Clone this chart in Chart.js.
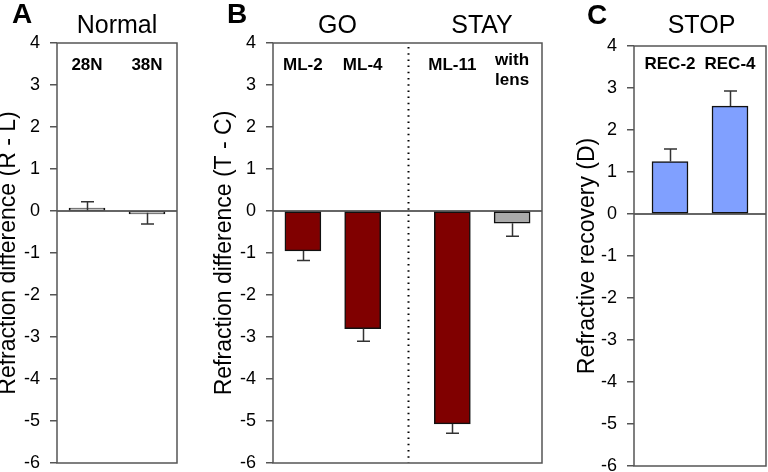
<!DOCTYPE html>
<html>
<head>
<meta charset="utf-8">
<script src="https://cdn.jsdelivr.net/npm/chart.js@4.4.0/dist/chart.umd.min.js"></script>
<style>
  html, body { margin: 0; padding: 0; background: #fff; }
  #wrap { position: relative; width: 768px; height: 472px; overflow: hidden; }
  canvas { position: absolute; top: 0; }
</style>
</head>
<body>
<div id="wrap">
  <canvas id="chartA" style="left:0px" width="195" height="482"></canvas>
  <canvas id="chartB" style="left:195px" width="380" height="482"></canvas>
  <canvas id="chartC" style="left:570px" width="198" height="485"></canvas>
</div>
<script>
// data
var yTicks = [-6, -5, -4, -3, -2, -1, 0, 1, 2, 3, 4];

var labelsA = ['28N', '38N'];
var valuesA = [0.02, -0.04];
var errorsA = [0.20, 0.27];

var labelsB = ['ML-2', 'ML-4', 'ML-11', 'with\nlens'];
var valuesB = [-0.95, -2.80, -5.07, -0.29];
var errorsB = [0.23, 0.30, 0.22, 0.31];

var labelsC = ['REC-2', 'REC-4'];
var valuesC = [1.25, 2.57];
var errorsC = [0.30, 0.36];

var FONT = "'Liberation Sans', Arial, sans-serif";
Chart.defaults.font.family = FONT;
Chart.defaults.font.size = 18;
Chart.defaults.color = '#000';

// helpers
function toPoints(slots, values) {
    var pts = [];
    for (var i in values) {
        pts.push({ x: slots[i], y: values[i] });
    }
    return pts;
}

var panelPlugin = {
    id: 'panel',
    beforeDatasetsDraw: function (chart, args, opts) {
        var a = chart.chartArea, ctx = chart.ctx;
        var ys = chart.scales.y, xs = chart.scales.x;
        ctx.save();
        // zero line
        var y0 = ys.getPixelForValue(0);
        ctx.strokeStyle = '#666';
        ctx.lineWidth = 2;
        ctx.beginPath();
        ctx.moveTo(a.left, y0);
        ctx.lineTo(a.right, y0);
        ctx.stroke();
        // dotted divider (GO / STAY)
        if (opts.divider != null) {
            var xd = Math.round(xs.getPixelForValue(opts.divider)) + 0.5;
            ctx.strokeStyle = '#000';
            ctx.lineWidth = 2;
            ctx.setLineDash([1.5, 4.7]);
            ctx.beginPath();
            ctx.moveTo(xd, a.top + 4);
            ctx.lineTo(xd, a.bottom);
            ctx.stroke();
            ctx.setLineDash([]);
        }
        ctx.restore();
    },
    afterDatasetsDraw: function (chart, args, opts) {
        var a = chart.chartArea, ctx = chart.ctx;
        var ys = chart.scales.y, xs = chart.scales.x;
        ctx.save();
        // error bars
        ctx.strokeStyle = '#333';
        ctx.lineWidth = 1.5;
        for (var i in opts.values) {
            var v = opts.values[i];
            var e = v >= 0 ? v + opts.errors[i] : v - opts.errors[i];
            var x = Math.round(xs.getPixelForValue(opts.slots[i])) + 0.5;
            var p1 = ys.getPixelForValue(v), p2 = ys.getPixelForValue(e);
            ctx.beginPath();
            ctx.moveTo(x, p1);
            ctx.lineTo(x, p2);
            ctx.moveTo(x - 6.5, p2);
            ctx.lineTo(x + 6.5, p2);
            ctx.stroke();
        }
        // frame
        ctx.strokeStyle = '#555';
        ctx.lineWidth = 1.5;
        ctx.strokeRect(a.left, a.top, a.right - a.left, a.bottom - a.top);
        // group labels inside the plot
        ctx.fillStyle = '#000';
        ctx.textAlign = 'center';
        ctx.textBaseline = 'alphabetic';
        ctx.font = 'bold 17px ' + FONT;
        for (var j in opts.labels) {
            var lines = opts.labels[j].split('\n');
            var lx = xs.getPixelForValue(opts.slots[j]);
            var by = lines.length > 1 ? opts.labelY - 5 : opts.labelY;
            for (var k = 0; k < lines.length; k++) {
                ctx.fillText(lines[k], lx, by + k * 20);
            }
        }
        // panel letter and titles
        for (var t in opts.titles) {
            var tt = opts.titles[t];
            ctx.font = tt.font + ' ' + FONT;
            ctx.textAlign = tt.align;
            ctx.fillText(tt.text, tt.x, tt.y);
        }
        ctx.restore();
    }
};

function makePanel(id, cfg) {
    var ctx = document.getElementById(id);
    return new Chart(ctx, {
        type: 'bar',
        data: {
            datasets: [
                {
                    data: toPoints(cfg.slots, cfg.values),
                    backgroundColor: cfg.colors,
                    borderColor: '#111',
                    borderWidth: 1.5,
                    borderSkipped: false,
                    minBarLength: 3,
                    barThickness: 36
                }
            ]
        },
        options: {
            responsive: false,
            animation: false,
            layout: { padding: cfg.padding },
            plugins: {
                legend: { display: false },
                tooltip: { enabled: false },
                panel: {
                    slots: cfg.slots,
                    values: cfg.values,
                    errors: cfg.errors,
                    labels: cfg.labels,
                    labelY: cfg.labelY,
                    divider: cfg.divider,
                    titles: cfg.titles
                }
            },
            scales: {
                x: { type: 'linear', min: cfg.xmin, max: cfg.xmax, display: false, offset: false },
                y: {
                    min: -6, max: 4,
                    afterFit: function (s) { s.width = cfg.axisWidth; },
                    afterBuildTicks: function (s) {
                        s.ticks = yTicks.map(function (v) { return { value: v }; });
                    },
                    ticks: { color: '#000', padding: 10, font: { size: 18, lineHeight: 1 } },
                    grid: { drawOnChartArea: false, tickLength: 7, color: '#555', lineWidth: 1.5 },
                    border: { display: false },
                    title: {
                        display: true,
                        text: cfg.yTitle,
                        color: '#000',
                        font: { size: 23, lineHeight: 1 },
                        padding: { top: cfg.titlePad, bottom: 0 }
                    }
                }
            }
        },
        plugins: [panelPlugin]
    });
}

makePanel('chartA', {
    slots: [1, 3], xmin: 0, xmax: 4,
    values: valuesA, errors: errorsA, labels: labelsA,
    colors: ['#ffffff', '#ffffff'],
    axisWidth: 57, padding: { left: 0, right: 18, top: 43, bottom: 0 },
    yTitle: 'Refraction difference (R - L)', titlePad: -3,
    labelY: 70,
    titles: [
        { text: 'A', x: 12, y: 23, font: 'bold 28px', align: 'left' },
        { text: 'Normal', x: 117, y: 33, font: '25px', align: 'center' }
    ]
});

makePanel('chartB', {
    slots: [1, 3, 6, 8], xmin: 0, xmax: 9, divider: 4.5,
    values: valuesB, errors: errorsB, labels: labelsB,
    colors: ['#800000', '#800000', '#800000', '#aaaaaa'],
    axisWidth: 78, padding: { left: 0, right: 33, top: 43, bottom: 0 },
    yTitle: 'Refraction difference (T - C)', titlePad: 18,
    labelY: 70,
    titles: [
        { text: 'B', x: 32, y: 23, font: 'bold 28px', align: 'left' },
        { text: 'GO', x: 142.5, y: 33, font: '25px', align: 'center' },
        { text: 'STAY', x: 287, y: 33, font: '25px', align: 'center' }
    ]
});

makePanel('chartC', {
    slots: [1.2, 3.2], xmin: 0, xmax: 4.4,
    values: valuesC, errors: errorsC, labels: labelsC,
    colors: ['#80a0ff', '#80a0ff'],
    axisWidth: 64, padding: { left: 0, right: 2, top: 46, bottom: 0 },
    yTitle: 'Refractive recovery (D)', titlePad: 6.5,
    labelY: 69,
    titles: [
        { text: 'C', x: 17, y: 24, font: 'bold 28px', align: 'left' },
        { text: 'STOP', x: 131.5, y: 33, font: '25px', align: 'center' }
    ]
});
</script>
</body>
</html>
